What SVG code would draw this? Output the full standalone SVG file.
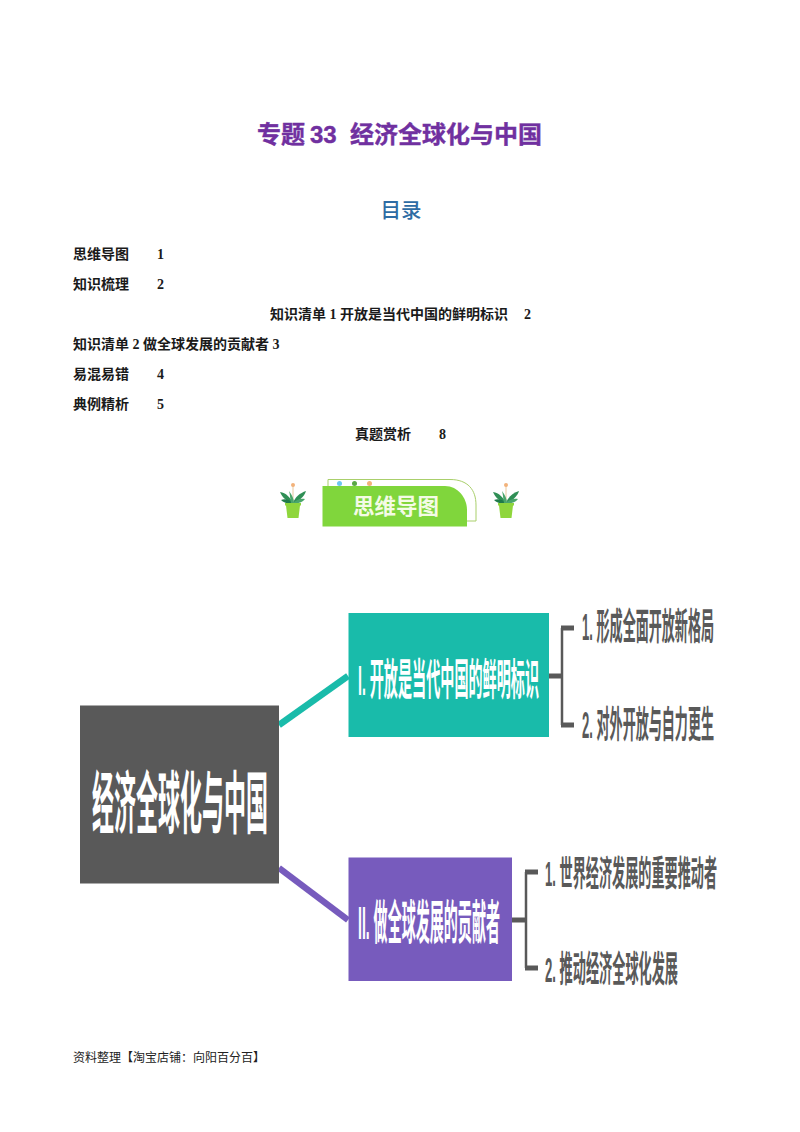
<svg xmlns="http://www.w3.org/2000/svg" width="800" height="1132" viewBox="0 0 800 1132">
<style>
text{font-family:"Liberation Serif","Noto Sans CJK SC",serif}
.toc{font-size:14px;font-weight:700;fill:#1a1a1a}
.foot{font-size:12px;fill:#222}
.map{font-family:"Liberation Sans","Noto Sans CJK SC",sans-serif;font-weight:700;font-size:16px}
.ttl{font-family:"Liberation Sans","Noto Sans CJK SC",sans-serif;font-size:24px;font-weight:700;fill:#7030a0;stroke:#7030a0;stroke-width:.4}
.w{fill:#fff}
.g{fill:#595959}
.br{fill:none;stroke:#595959;stroke-width:2.5}
.stem{fill:none;stroke:#595959;stroke-width:5}
</style>
<defs>
<g id="plant">
<path d="M0 0V-17" stroke="#e8c9a0" stroke-width="1" fill="none"/>
<circle cx="0" cy="-18" r="2" fill="#f2b27a"/>
<path d="M0 0C-3 -6 -7 -10 -13 -11C-11 -6 -7 -2 0 0Z" fill="#2f8f55"/>
<path d="M0 0C2 -6 7 -10 13 -12C11 -6 6 -2 0 0Z" fill="#2f8f55"/>
<path d="M0 0C-3 -3 -8 -5 -12 -3C-9 0 -5 1 0 0Z" fill="#1f7a4a"/>
<path d="M0 0C3 -3 7 -5 12 -4C9 0 4 1 0 0Z" fill="#4aa56b"/>
<path d="M-2 0C-3 -5 -3 -9 -4 -12C-1 -8 1 -4 1 0Z" fill="#4aa56b"/>
<path d="M-8 0H8V2.500H7L5.500 15H-5.500L-7 2.500H-8Z" fill="#8fd63c"/>
</g>
</defs>
<rect width="800" height="1132" fill="#fff"/>

<g id="title">
<text class="ttl" x="257" y="143">专题<tspan x="310">33</tspan><tspan x="350">经济全球化与中国</tspan></text>
<text x="401" y="218" font-size="20.5" font-weight="500" fill="#2e6ca4" text-anchor="middle" style="font-family:'Liberation Sans','Noto Sans CJK SC',sans-serif">目录</text>
</g>

<g id="toc">
<text class="toc" x="73" y="259">思维导图</text><text class="toc" x="157" y="259">1</text>
<text class="toc" x="73" y="289">知识梳理</text><text class="toc" x="157" y="289">2</text>
<text class="toc" x="270" y="319">知识清单 1 开放是当代中国的鲜明标识</text><text class="toc" x="524" y="319">2</text>
<text class="toc" x="73" y="349">知识清单 2 做全球发展的贡献者 3</text>
<text class="toc" x="73" y="379">易混易错</text><text class="toc" x="157" y="379">4</text>
<text class="toc" x="73" y="409">典例精析</text><text class="toc" x="157" y="409">5</text>
<text class="toc" x="355" y="439">真题赏析</text><text class="toc" x="439" y="439">8</text>
</g>

<g id="badge">
<use href="#plant" x="293" y="503"/>
<use href="#plant" x="506" y="503"/>
<path d="M328 486V479.500H450C468 479.500 476 490 476 505V521H467" fill="none" stroke="#a9cf6b" stroke-width="1"/>
<circle cx="339.500" cy="483.500" r="2.500" fill="#6ec6f0"/>
<circle cx="354.500" cy="483.500" r="2.500" fill="#5aa845"/>
<circle cx="369.500" cy="483.500" r="2.500" fill="#f2b27a"/>
<path d="M322.500 486H445C458 486 467 498 467 510V526.500H322.500Z" fill="#80d63c"/>
<text x="396" y="514" font-size="21.500" font-weight="700" fill="#f4fbe6" text-anchor="middle" style="font-family:'Noto Sans CJK SC',sans-serif">思维导图</text>
</g>

<g id="connectors">
<path d="M279 725L348 676" stroke="#19bbaa" stroke-width="6.500" fill="none"/>
<path d="M279 868L348 920" stroke="#775bbd" stroke-width="6.500" fill="none"/>
<path class="stem" d="M549 676H562"/>
<path class="br" d="M562 628V725"/>
<path class="stem" d="M561 628H574"/>
<path class="stem" d="M561 725H574"/>
<path class="stem" d="M512 920H526"/>
<path class="br" d="M526 872V968"/>
<path class="stem" d="M525 872H538"/>
<path class="stem" d="M525 968H538"/>
</g>

<g id="root">
<rect x="80" y="705.500" width="199" height="178" fill="#595959"/>
<text class="map w" transform="translate(92 827.500) scale(1.375 4.250)" textLength="128" lengthAdjust="spacingAndGlyphs">经济全球化与中国</text>
</g>
<g id="n1">
<rect x="348.500" y="613" width="200.500" height="124" fill="#19bbaa"/>
<text class="map w" transform="translate(358 694.600) scale(0.883 2.690)" textLength="205" lengthAdjust="spacingAndGlyphs">I. 开放是当代中国的鲜明标识</text>
</g>
<g id="n2">
<rect x="348.500" y="857.500" width="163.500" height="123.500" fill="#775bbd"/>
<text class="map w" transform="translate(358 939) scale(0.800 2.940)" textLength="177.500" lengthAdjust="spacingAndGlyphs">II. 做全球发展的贡献者</text>
</g>
<g id="n1a"><text class="map g" transform="translate(582 640.400) scale(0.816 2.310)" textLength="161.800" lengthAdjust="spacingAndGlyphs">1. 形成全面开放新格局</text></g>
<g id="n1b"><text class="map g" transform="translate(582 738.400) scale(0.816 2.310)" textLength="161.800" lengthAdjust="spacingAndGlyphs">2. 对外开放与自力更生</text></g>
<g id="n2a"><text class="map g" transform="translate(545 885.600) scale(0.820 2.190)" textLength="209.800" lengthAdjust="spacingAndGlyphs">1. 世界经济发展的重要推动者</text></g>
<g id="n2b"><text class="map g" transform="translate(545 981.500) scale(0.822 2.250)" textLength="161.800" lengthAdjust="spacingAndGlyphs">2. 推动经济全球化发展</text></g>

<g id="footer"><text class="foot" x="73" y="1062">资料整理【淘宝店铺：向阳百分百】</text></g>
</svg>
